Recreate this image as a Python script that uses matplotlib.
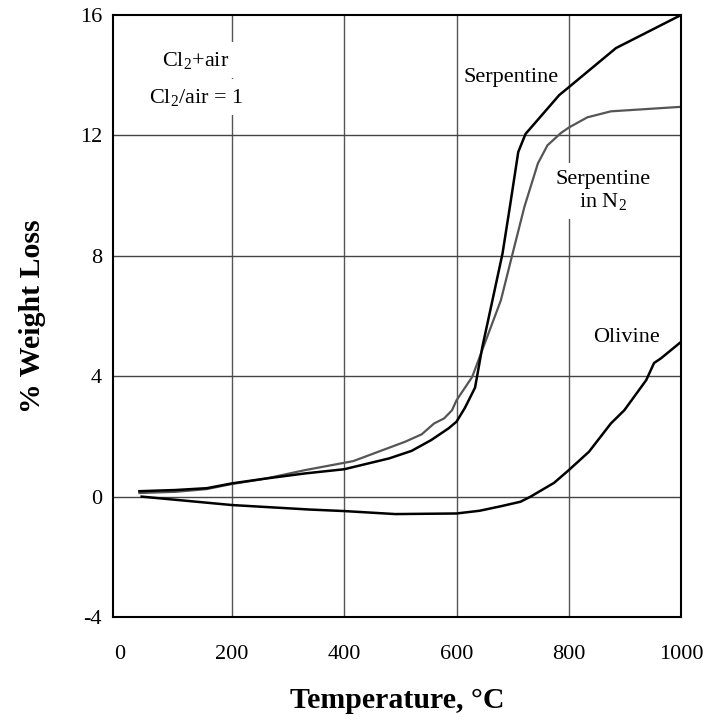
# -*- coding: utf-8 -*-
# Weight loss vs temperature: serpentine (Cl2+air), serpentine in N2, olivine
import matplotlib
matplotlib.use("Agg")
import matplotlib.pyplot as plt

plt.rcParams["font.family"] = ["Liberation Serif", "DejaVu Serif"]
plt.rcParams["mathtext.fontset"] = "custom"
plt.rcParams["mathtext.rm"] = "Liberation Serif"
plt.rcParams["mathtext.it"] = "Liberation Serif:italic"
plt.rcParams["mathtext.default"] = "regular"
plt.rcParams["axes.unicode_minus"] = False   # "-4" with a plain hyphen, as in the original

# --- data ---
serp_x = [35, 100, 155, 200, 260, 330, 400, 480, 520, 555, 586, 600, 615, 633,
          646, 664, 682, 696, 710, 723, 783, 800, 884, 1000]
serp_y = [0.18, 0.22, 0.28, 0.44, 0.60, 0.77, 0.91, 1.27, 1.52, 1.88, 2.27, 2.49,
          2.95, 3.62, 4.97, 6.52, 8.08, 9.74, 11.45, 12.05, 13.34, 13.6, 14.9, 16.0]

n2_x = [35, 100, 155, 200, 260, 330, 416, 508, 538, 560, 578, 592, 600, 628,
        679, 700, 721, 745, 762, 786, 800, 833, 875, 1000]
n2_y = [0.12, 0.16, 0.25, 0.42, 0.60, 0.88, 1.18, 1.82, 2.07, 2.43, 2.60, 2.87,
        3.2, 3.98, 6.52, 8.08, 9.63, 11.07, 11.67, 12.08, 12.26, 12.6, 12.8, 12.95]

oliv_x = [39, 200, 339, 400, 491, 600, 641, 679, 714, 732, 774, 800, 836, 875,
          899, 938, 952, 964, 1000]
oliv_y = [0.0, -0.28, -0.43, -0.48, -0.58, -0.56, -0.47, -0.32, -0.17, 0.0, 0.46,
          0.88, 1.49, 2.43, 2.87, 3.87, 4.44, 4.59, 5.14]

x_ticks = [0, 200, 400, 600, 800, 1000]
y_ticks = [-4, 0, 4, 8, 12, 16]

fig = plt.figure(figsize=(7.14, 7.22), dpi=100)
ax = fig.add_axes([0.1583, 0.1454, 0.7955, 0.8338])

# grid (text boxes below cut gaps into it)
for xv in x_ticks[1:-1]:
    ax.axvline(xv, color="#555555", lw=1.0, zorder=1)
for yv in y_ticks[1:-1]:
    ax.axhline(yv, color="#444444", lw=1.0, zorder=1)

ax.plot(oliv_x, oliv_y, color="black", lw=1.8, zorder=4)
ax.plot(n2_x, n2_y, color="#555555", lw=1.6, zorder=4)
ax.plot(serp_x, serp_y, color="black", lw=1.8, zorder=5)

box = dict(boxstyle="square,pad=0.35", fc="white", ec="none")
ax.text(136, 14.5, "Cl$_2$+air", fontsize=16, ha="center", va="center",
        bbox=box, zorder=3)
ax.text(136, 13.27, "Cl$_2$/air = 1", fontsize=16, ha="center", va="center",
        bbox=box, zorder=3)
ax.text(698, 13.94, "Serpentine", fontsize=16, ha="center", va="center", zorder=3)
ax.text(861, 10.15, "Serpentine\nin N$_2$", fontsize=16, ha="center", va="center",
        linespacing=1.15, bbox=dict(boxstyle="square,pad=0.3", fc="white", ec="none"),
        zorder=3)
ax.text(902, 5.3, "Olivine", fontsize=16, ha="center", va="center", zorder=3)

ax.set_xlim(-12, 1000)
ax.set_ylim(-4, 16)
ax.set_xticks(x_ticks)
ax.set_yticks(y_ticks)
ax.tick_params(axis="both", length=0, labelsize=16)
ax.tick_params(axis="x", pad=20)
ax.tick_params(axis="y", pad=8)
for s in ax.spines.values():
    s.set_linewidth(1.5)
    s.set_zorder(6)

ax.set_xlabel("Temperature, °C", fontsize=21.5, fontweight="bold", labelpad=17)
ax.set_ylabel("% Weight Loss", fontsize=21.5, fontweight="bold", labelpad=24)

fig.savefig("out.png", dpi=100)
